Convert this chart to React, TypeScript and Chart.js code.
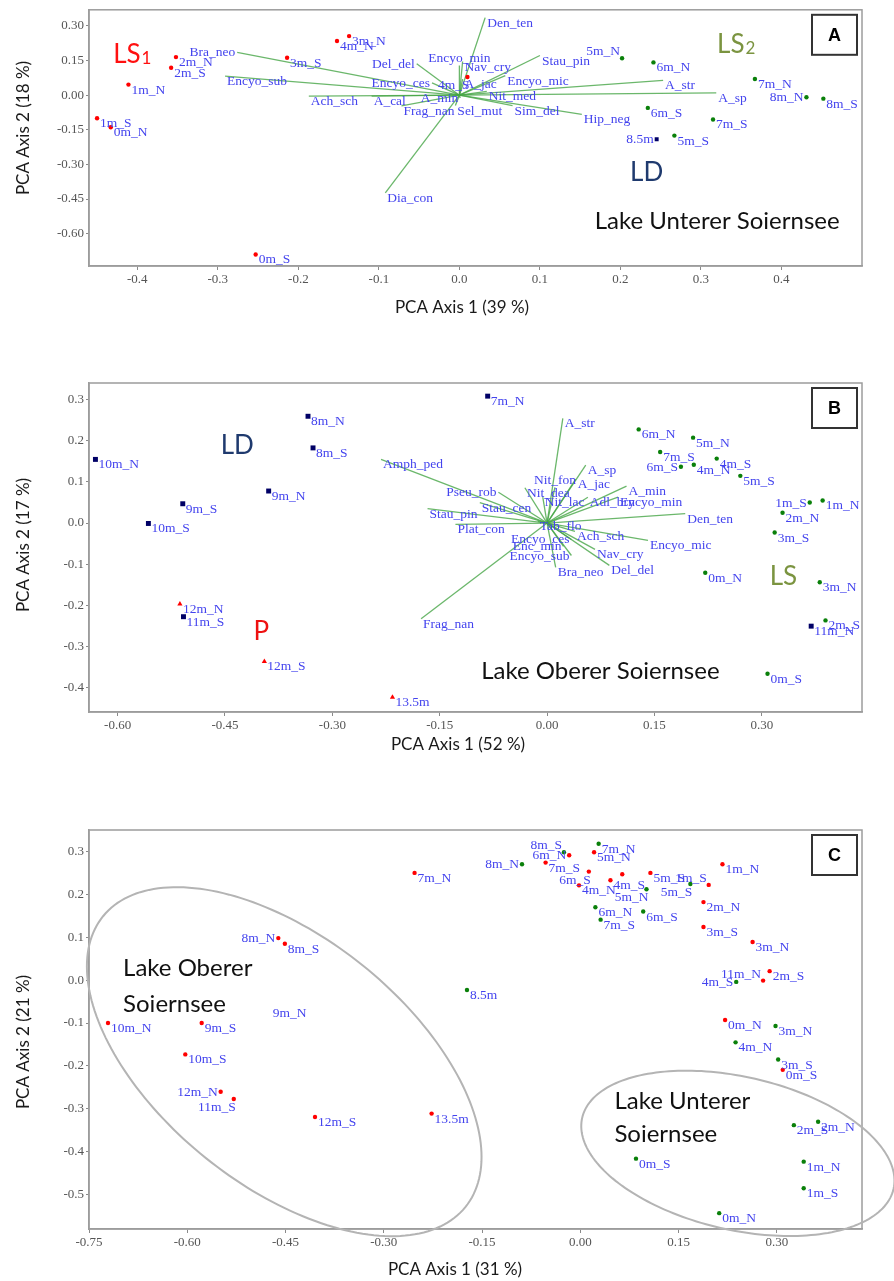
import React, { useEffect, useRef } from 'react';
import { Chart, registerables } from 'chart.js';
Chart.register(...registerables);

type Pt = [string, number, number];
type Vec = [string, number, number];

// ---------------- Panel A : Lake Unterer Soiernsee ----------------
const aTicksX = ['-0.4', '-0.3', '-0.2', '-0.1', '0.0', '0.1', '0.2', '0.3', '0.4'];
const aTicksY = ['0.30', '0.15', '0.00', '-0.15', '-0.30', '-0.45', '-0.60'];
const aRangeX = [-0.46, 0.5];
const aRangeY = [-0.74, 0.37];
const aLS1: Pt[] = [
  ['3m_N', -0.137, 0.256], ['4m_N', -0.152, 0.235], ['2m_N', -0.352, 0.165], ['2m_S', -0.358, 0.119],
  ['3m_S', -0.214, 0.162], ['1m_N', -0.411, 0.046], ['1m_S', -0.45, -0.1], ['0m_N', -0.433, -0.139],
  ['0m_S', -0.253, -0.69], ['4m_S', 0.01, 0.079],
];
const aLS2: Pt[] = [
  ['5m_N', 0.202, 0.16], ['6m_N', 0.241, 0.142], ['7m_N', 0.367, 0.07], ['8m_N', 0.431, -0.009],
  ['8m_S', 0.452, -0.015], ['6m_S', 0.234, -0.055], ['7m_S', 0.315, -0.105], ['5m_S', 0.267, -0.175],
];
const aLD: Pt[] = [['8.5m', 0.245, -0.191]];
const aVectors: Vec[] = [
  ['Bra_neo', -0.276, 0.186], ['Encyo_sub', -0.291, 0.083], ['Ach_sch', -0.187, -0.004],
  ['A_cal', -0.109, -0.004], ['Frag_nan', -0.072, -0.046], ['Dia_con', -0.092, -0.423],
  ['Del_del', -0.053, 0.136], ['Encyo_ces', -0.034, 0.053], ['Encyo_min', 0.0, 0.129],
  ['Nav_cry', 0.004, 0.146], ['A_min', 0.001, -0.012], ['A_jac', 0.004, 0.07],
  ['Den_ten', 0.032, 0.336], ['Stau_pin', 0.1, 0.172], ['Encyo_mic', 0.057, 0.085],
  ['A_str', 0.253, 0.064], ['A_sp', 0.319, 0.01], ['Nit_med', 0.034, 0.017],
  ['Sim_del', 0.066, -0.045], ['Sel_mut', -0.005, -0.045], ['Hip_neg', 0.152, -0.083],
];
const aVecSide: Record<string, string> = { Bra_neo: 'r', Del_del: 'r', Encyo_ces: 'r', Encyo_min: 'c', A_min: 'r' };
const aPtSide: Record<string, string> = { 'LS1:4m_S': 'ld', 'LS2:5m_N': 'lu', 'LS2:8m_N': 'l', 'LD:8.5m': 'l' };

// ---------------- Panel B : Lake Oberer Soiernsee ----------------
const bTicksX = ['-0.60', '-0.45', '-0.30', '-0.15', '0.00', '0.15', '0.30'];
const bTicksY = ['0.3', '0.2', '0.1', '0.0', '-0.1', '-0.2', '-0.3', '-0.4'];
const bRangeX = [-0.64, 0.44];
const bRangeY = [-0.46, 0.341];
const bLD: Pt[] = [
  ['8m_N', -0.334, 0.26], ['8m_S', -0.327, 0.183], ['10m_N', -0.631, 0.155], ['9m_N', -0.389, 0.078],
  ['9m_S', -0.509, 0.047], ['10m_S', -0.557, -0.001], ['11m_S', -0.508, -0.228], ['7m_N', -0.083, 0.309],
  ['11m_N', 0.369, -0.251],
];
const bP: Pt[] = [['12m_N', -0.513, -0.197], ['12m_S', -0.395, -0.337], ['13.5m', -0.216, -0.424]];
const bLS: Pt[] = [
  ['6m_N', 0.128, 0.228], ['5m_N', 0.204, 0.208], ['7m_S', 0.158, 0.173], ['4m_S', 0.237, 0.157],
  ['6m_S', 0.187, 0.137], ['4m_N', 0.205, 0.142], ['5m_S', 0.27, 0.115], ['1m_S', 0.367, 0.05],
  ['1m_N', 0.385, 0.055], ['2m_N', 0.329, 0.025], ['3m_S', 0.318, -0.023], ['0m_N', 0.221, -0.121],
  ['3m_N', 0.381, -0.144], ['2m_S', 0.389, -0.237], ['0m_S', 0.308, -0.367],
];
const bVectors: Vec[] = [
  ['A_str', 0.022, 0.255], ['A_sp', 0.054, 0.141], ['A_jac', 0.04, 0.107], ['Nit_fon', 0.011, 0.087],
  ['Nit_dea', -0.031, 0.086], ['Nit_lac', -0.006, 0.063], ['Adl_bry', 0.057, 0.063], ['Encyo_min', 0.099, 0.063],
  ['A_min', 0.111, 0.09], ['Den_ten', 0.193, 0.023], ['Encyo_mic', 0.141, -0.042], ['Del_del', 0.087, -0.103],
  ['Nav_cry', 0.067, -0.064], ['Bra_neo', 0.012, -0.108], ['Encyo_sub', 0.034, -0.079], ['Enc_min', 0.023, -0.057],
  ['Encyo_ces', 0.034, -0.04], ['Ach_sch', 0.039, -0.02], ['Tab_flo', -0.013, 0.004], ['Plat_con', -0.128, -0.003],
  ['Stau_pin', -0.167, 0.035], ['Stau_cen', -0.094, 0.05], ['Pseu_rob', -0.068, 0.075], ['Amph_ped', -0.232, 0.155],
  ['Frag_nan', -0.176, -0.233],
];
const bVecSide: Record<string, string> = { Encyo_sub: 'r', Enc_min: 'r', Encyo_ces: 'r', Pseu_rob: 'r', Nit_fon: 'c' };
const bPtSide: Record<string, string> = { 'LS:6m_S': 'l', 'LS:1m_S': 'l' };

// ---------------- Panel C : both lakes ----------------
const cTicksX = ['-0.75', '-0.60', '-0.45', '-0.30', '-0.15', '0.00', '0.15', '0.30'];
const cTicksY = ['0.3', '0.2', '0.1', '0.0', '-0.1', '-0.2', '-0.3', '-0.4', '-0.5'];
const cRangeX = [-0.75, 0.43];
const cRangeY = [-0.58, 0.35];
const cRed: Pt[] = [
  ['7m_N', -0.253, 0.25], ['8m_N', -0.461, 0.098], ['8m_S', -0.451, 0.085], ['10m_N', -0.721, -0.1],
  ['9m_S', -0.578, -0.1], ['10m_S', -0.603, -0.173], ['12m_N', -0.549, -0.26], ['11m_S', -0.529, -0.277],
  ['12m_S', -0.405, -0.319], ['13.5m', -0.227, -0.311], ['6m_N', -0.017, 0.291], ['7m_S', -0.053, 0.274],
  ['5m_N', 0.021, 0.298], ['6m_S', 0.013, 0.253], ['4m_S', 0.046, 0.233], ['4m_N', -0.002, 0.221],
  ['', 0.064, 0.247], ['5m_S', 0.107, 0.25], ['1m_S', 0.196, 0.222], ['1m_N', 0.217, 0.27],
  ['2m_N', 0.188, 0.182], ['3m_S', 0.188, 0.124], ['3m_N', 0.263, 0.089], ['11m_N', 0.279, -0.001],
  ['2m_S', 0.289, 0.021], ['0m_N', 0.221, -0.093], ['0m_S', 0.309, -0.209],
];
const cGreen: Pt[] = [
  ['8m_N', -0.089, 0.27], ['8m_S', -0.025, 0.298], ['7m_N', 0.028, 0.318], ['5m_N', 0.101, 0.212],
  ['5m_S', 0.168, 0.224], ['6m_N', 0.023, 0.17], ['7m_S', 0.031, 0.141], ['6m_S', 0.096, 0.16],
  ['4m_S', 0.238, -0.004], ['8.5m', -0.173, -0.023], ['3m_N', 0.298, -0.107], ['4m_N', 0.237, -0.145],
  ['3m_S', 0.302, -0.185], ['2m_S', 0.326, -0.338], ['2m_N', 0.363, -0.33], ['0m_S', 0.085, -0.416],
  ['1m_N', 0.341, -0.423], ['1m_S', 0.341, -0.485], ['0m_N', 0.212, -0.543],
];
const cUnmarked: Pt[] = [['9m_N', -0.474, -0.064]];
const cPtSide: Record<string, string> = {
  'R:8m_N': 'l', 'R:12m_N': 'l', 'R:11m_S': 'ld', 'R:6m_N': 'l', 'R:6m_S': 'ld', 'R:1m_S': 'lu', 'R:11m_N': 'lu',
  'G:8m_N': 'l', 'G:8m_S': 'lu', 'G:5m_N': 'ld', 'G:5m_S': 'ld', 'G:4m_S': 'l',
};
// ellipse: centre x, centre y, axis-1 dx, dy, axis-2 dx, dy (data units)
const cEllipseOberer = [-0.452, -0.19, 0.2765, -0.339, -0.1195, -0.2248];
const cEllipseUnterer = [0.2405, -0.4037, 0.2376, -0.0832, -0.0264, -0.1738];

// ---------------- drawing ----------------
const W = 894;
const SERIF = '"Liberation Serif", "Times New Roman", serif';
const SANS = 'Lato, "Open Sans", sans-serif';
const LABEL_COLOR = '#4444ee';
const VEC_COLOR = 'rgba(70,165,70,0.8)';
const OLIVE = '#7b9440';
const NAVYTXT = '#1f3a6e';

interface Group { key: string; pts: Pt[]; color: string; style: string; radius: number }
interface Txt { t: string; sub?: string; x: number; y: number; color: string; size: number }
interface Panel {
  top: number; height: number;
  area: { left: number; top: number; right: number; bottom: number };
  rangeX: number[]; rangeY: number[]; ticksX: string[]; ticksY: string[];
  groups: Group[]; vectors: Vec[]; vecSide: Record<string, string>; ptSide: Record<string, string>;
  letter: string; xTitle: string; xTitleX: number; xTitleY: number; yTitle: string; yTitleX: number; yTitleY: number;
  texts: Txt[]; ellipses?: number[][];
}

const panelA: Panel = {
  top: 0, height: 325, area: { left: 89, top: 8, right: 862, bottom: 266 },
  rangeX: aRangeX, rangeY: aRangeY, ticksX: aTicksX, ticksY: aTicksY,
  groups: [
    { key: 'LS1', pts: aLS1, color: '#ff0000', style: 'circle', radius: 2.2 },
    { key: 'LS2', pts: aLS2, color: '#0a800a', style: 'circle', radius: 2.2 },
    { key: 'LD', pts: aLD, color: '#000066', style: 'rect', radius: 2.8 },
  ],
  vectors: aVectors, vecSide: aVecSide, ptSide: aPtSide, letter: 'A',
  xTitle: 'PCA Axis 1 (39 %)', xTitleX: 462, xTitleY: 308,
  yTitle: 'PCA Axis 2 (18 %)', yTitleX: 24, yTitleY: 128,
  texts: [
    { t: 'LS', sub: '1', x: -0.43, y: 0.14, color: '#ff1010', size: 26 },
    { t: 'LS', sub: '2', x: 0.32, y: 0.183, color: OLIVE, size: 26 },
    { t: 'LD', x: 0.212, y: -0.37, color: NAVYTXT, size: 26 },
    { t: 'Lake Unterer Soiernsee', x: 0.168, y: -0.58, color: '#111', size: 24 },
  ],
};

const panelB: Panel = {
  top: 325, height: 435, area: { left: 89, top: 383, right: 862, bottom: 712 },
  rangeX: bRangeX, rangeY: bRangeY, ticksX: bTicksX, ticksY: bTicksY,
  groups: [
    { key: 'LD', pts: bLD, color: '#000066', style: 'rect', radius: 3.5 },
    { key: 'P', pts: bP, color: '#ff0000', style: 'triangle', radius: 3 },
    { key: 'LS', pts: bLS, color: '#0a800a', style: 'circle', radius: 2.2 },
  ],
  vectors: bVectors, vecSide: bVecSide, ptSide: bPtSide, letter: 'B',
  xTitle: 'PCA Axis 1 (52 %)', xTitleX: 458, xTitleY: 745,
  yTitle: 'PCA Axis 2 (17 %)', yTitleX: 24, yTitleY: 545,
  texts: [
    { t: 'LD', x: -0.456, y: 0.168, color: NAVYTXT, size: 26 },
    { t: 'P', x: -0.41, y: -0.284, color: '#ee1111', size: 26 },
    { t: 'LS', x: 0.311, y: -0.152, color: OLIVE, size: 26 },
    { t: 'Lake Oberer Soiernsee', x: -0.092, y: -0.38, color: '#111', size: 24 },
  ],
};

const panelC: Panel = {
  top: 760, height: 521, area: { left: 89, top: 830, right: 862, bottom: 1229 },
  rangeX: cRangeX, rangeY: cRangeY, ticksX: cTicksX, ticksY: cTicksY,
  groups: [
    { key: 'R', pts: cRed, color: '#ff0000', style: 'circle', radius: 2.2 },
    { key: 'G', pts: cGreen, color: '#0a800a', style: 'circle', radius: 2.2 },
    { key: 'U', pts: cUnmarked, color: '#ff0000', style: 'circle', radius: 0 },
  ],
  vectors: [], vecSide: {}, ptSide: cPtSide, letter: 'C',
  xTitle: 'PCA Axis 1 (31 %)', xTitleX: 455, xTitleY: 1270,
  yTitle: 'PCA Axis 2 (21 %)', yTitleX: 24, yTitleY: 1042,
  texts: [
    { t: 'Lake Oberer', x: -0.698, y: 0.009, color: '#111', size: 24 },
    { t: 'Soiernsee', x: -0.698, y: -0.075, color: '#111', size: 24 },
    { t: 'Lake Unterer', x: 0.052, y: -0.3, color: '#111', size: 24 },
    { t: 'Soiernsee', x: 0.052, y: -0.378, color: '#111', size: 24 },
  ],
  ellipses: [cEllipseOberer, cEllipseUnterer],
};

function tickLabel(list: string[], v: number) {
  const f = list.find((s) => Math.abs(parseFloat(s) - v) < 1e-9);
  return f ?? '';
}

function buildChart(canvas: HTMLCanvasElement, p: Panel) {
  const a = p.area;
  const datasets: any[] = [];
  p.groups.forEach((g) =>
    datasets.push({
      data: g.pts.map(([, x, y]) => ({ x, y })),
      pointStyle: g.style, pointRadius: g.radius, pointHoverRadius: g.radius,
      pointBackgroundColor: g.color, pointBorderColor: g.color, pointBorderWidth: 0,
      showLine: false, order: 1,
    })
  );
  p.vectors.forEach(([, x, y]) =>
    datasets.push({
      data: [{ x: 0, y: 0 }, { x, y }], showLine: true, pointRadius: 0,
      borderColor: VEC_COLOR, borderWidth: 1.3, order: 2,
    })
  );

  const overlay = {
    id: 'overlay',
    afterDatasetsDraw(chart: any) {
      const { ctx, chartArea: ca, scales } = chart;
      const sx = scales.x, sy = scales.y;
      const X = (v: number) => sx.getPixelForValue(v);
      const Y = (v: number) => sy.getPixelForValue(v);
      ctx.save();
      // frame
      ctx.strokeStyle = '#9c9c9c';
      ctx.lineWidth = 1.5;
      ctx.strokeRect(ca.left, ca.top, ca.right - ca.left, ca.bottom - ca.top);

      // ellipses
      (p.ellipses || []).forEach((e) => {
        ctx.beginPath();
        for (let i = 0; i <= 200; i++) {
          const t = (i / 200) * Math.PI * 2;
          const px = X(e[0] + e[2] * Math.cos(t) + e[4] * Math.sin(t));
          const py = Y(e[1] + e[3] * Math.cos(t) + e[5] * Math.sin(t));
          if (i === 0) ctx.moveTo(px, py); else ctx.lineTo(px, py);
        }
        ctx.strokeStyle = '#b4b4b4';
        ctx.lineWidth = 2;
        ctx.stroke();
      });

      // vector labels
      ctx.fillStyle = LABEL_COLOR;
      ctx.font = `13.5px ${SERIF}`;
      ctx.textBaseline = 'alphabetic';
      p.vectors.forEach(([n, vx, vy]) => {
        const px = X(vx), py = Y(vy);
        const m = p.vecSide[n] || 'l';
        if (m === 'r') { ctx.textAlign = 'right'; ctx.fillText(n, px - 2, py + 4); }
        else if (m === 'c') { ctx.textAlign = 'center'; ctx.fillText(n, px, py - 3); }
        else { ctx.textAlign = 'left'; ctx.fillText(n, px + 2, py + 9); }
      });

      // point labels
      p.groups.forEach((g) => {
        g.pts.forEach(([n, vx, vy]) => {
          if (!n) return;
          const px = X(vx), py = Y(vy);
          const m = p.ptSide[g.key + ':' + n] || 'r';
          if (m === 'l') { ctx.textAlign = 'right'; ctx.fillText(n, px - 3, py + 4); }
          else if (m === 'lu') { ctx.textAlign = 'right'; ctx.fillText(n, px - 2, py - 3); }
          else if (m === 'ld') { ctx.textAlign = 'right'; ctx.fillText(n, px + 2, py + 12); }
          else { ctx.textAlign = 'left'; ctx.fillText(n, px + 3, py + 9); }
        });
      });

      // big annotation texts
      p.texts.forEach((t) => {
        ctx.textAlign = 'left';
        ctx.fillStyle = t.color;
        ctx.font = `${t.size}px ${SANS}`;
        const px = X(t.x), py = Y(t.y);
        ctx.fillText(t.t, px, py);
        if (t.sub) {
          const w = ctx.measureText(t.t).width;
          ctx.font = `${Math.round(t.size * 0.65)}px ${SANS}`;
          ctx.fillText(t.sub, px + w + 1, py + 1);
        }
      });

      // panel letter box
      const bx = ca.right - 50, by = ca.top + 5, bw = 45, bh = 40;
      ctx.fillStyle = '#fff';
      ctx.fillRect(bx, by, bw, bh);
      ctx.strokeStyle = '#333';
      ctx.lineWidth = 2;
      ctx.strokeRect(bx, by, bw, bh);
      ctx.fillStyle = '#000';
      ctx.font = `bold 18px "Liberation Sans", Arial, sans-serif`;
      ctx.textAlign = 'center';
      ctx.textBaseline = 'middle';
      ctx.fillText(p.letter, bx + bw / 2, by + bh / 2 + 1);

      // axis titles
      ctx.fillStyle = '#1a1a1a';
      ctx.font = `17px ${SANS}`;
      ctx.textAlign = 'center';
      ctx.textBaseline = 'middle';
      ctx.fillText(p.xTitle, p.xTitleX, p.xTitleY - p.top);
      ctx.save();
      ctx.translate(p.yTitleX, p.yTitleY - p.top);
      ctx.rotate(-Math.PI / 2);
      ctx.fillText(p.yTitle, 0, 0);
      ctx.restore();
      ctx.restore();
    },
  };

  const tickFont = { family: SERIF, size: 13 };
  return new Chart(canvas, {
    type: 'scatter',
    data: { datasets },
    options: {
      animation: false,
      responsive: false,
      maintainAspectRatio: false,
      devicePixelRatio: 1,
      events: [],
      layout: { padding: { left: 0, right: W - a.right, top: a.top - p.top, bottom: 0 } },
      plugins: { legend: { display: false }, tooltip: { enabled: false } },
      scales: {
        x: {
          type: 'linear', position: 'bottom', min: p.rangeX[0], max: p.rangeX[1],
          afterFit: (s: any) => { s.height = p.top + p.height - a.bottom; },
          afterBuildTicks: (s: any) => { s.ticks = p.ticksX.map((t) => ({ value: parseFloat(t) })); },
          ticks: { callback: (v: any) => tickLabel(p.ticksX, Number(v)), font: tickFont, color: '#555', padding: 2, maxRotation: 0, autoSkip: false },
          grid: { drawOnChartArea: false, drawTicks: true, tickLength: 4, color: '#8a8a8a' },
          border: { display: true, color: '#9c9c9c', width: 1.5 },
        },
        y: {
          type: 'linear', position: 'left', min: p.rangeY[0], max: p.rangeY[1],
          afterFit: (s: any) => { s.width = a.left; },
          afterBuildTicks: (s: any) => { s.ticks = p.ticksY.map((t) => ({ value: parseFloat(t) })); },
          ticks: { callback: (v: any) => tickLabel(p.ticksY, Number(v)), font: tickFont, color: '#555', padding: 2, autoSkip: false },
          grid: { drawOnChartArea: false, drawTicks: true, tickLength: 3, color: '#8a8a8a' },
          border: { display: true, color: '#9c9c9c', width: 1.5 },
        },
      },
    } as any,
    plugins: [overlay],
  });
}

const PANELS = [panelA, panelB, panelC];

export default function App() {
  const refs = [useRef<HTMLCanvasElement>(null), useRef<HTMLCanvasElement>(null), useRef<HTMLCanvasElement>(null)];
  useEffect(() => {
    const charts = PANELS.map((p, i) => buildChart(refs[i].current as HTMLCanvasElement, p));
    let alive = true;
    const fonts: any = (document as any).fonts;
    if (fonts && fonts.load) {
      Promise.all([fonts.load('24px Lato'), fonts.load('13px "Liberation Serif"')]).then(() => {
        if (alive) charts.forEach((c) => c.update());
      }).catch(() => {});
    }
    return () => { alive = false; charts.forEach((c) => c.destroy()); };
  }, []);
  return (
    <div style={{ position: 'absolute', left: 0, top: 0, width: W, height: 1281, background: '#fff', overflow: 'hidden' }}>
      {PANELS.map((p, i) => (
        <canvas
          key={i}
          ref={refs[i]}
          width={W}
          height={p.height}
          style={{ position: 'absolute', left: 0, top: p.top, width: W, height: p.height, display: 'block' }}
        />
      ))}
    </div>
  );
}
